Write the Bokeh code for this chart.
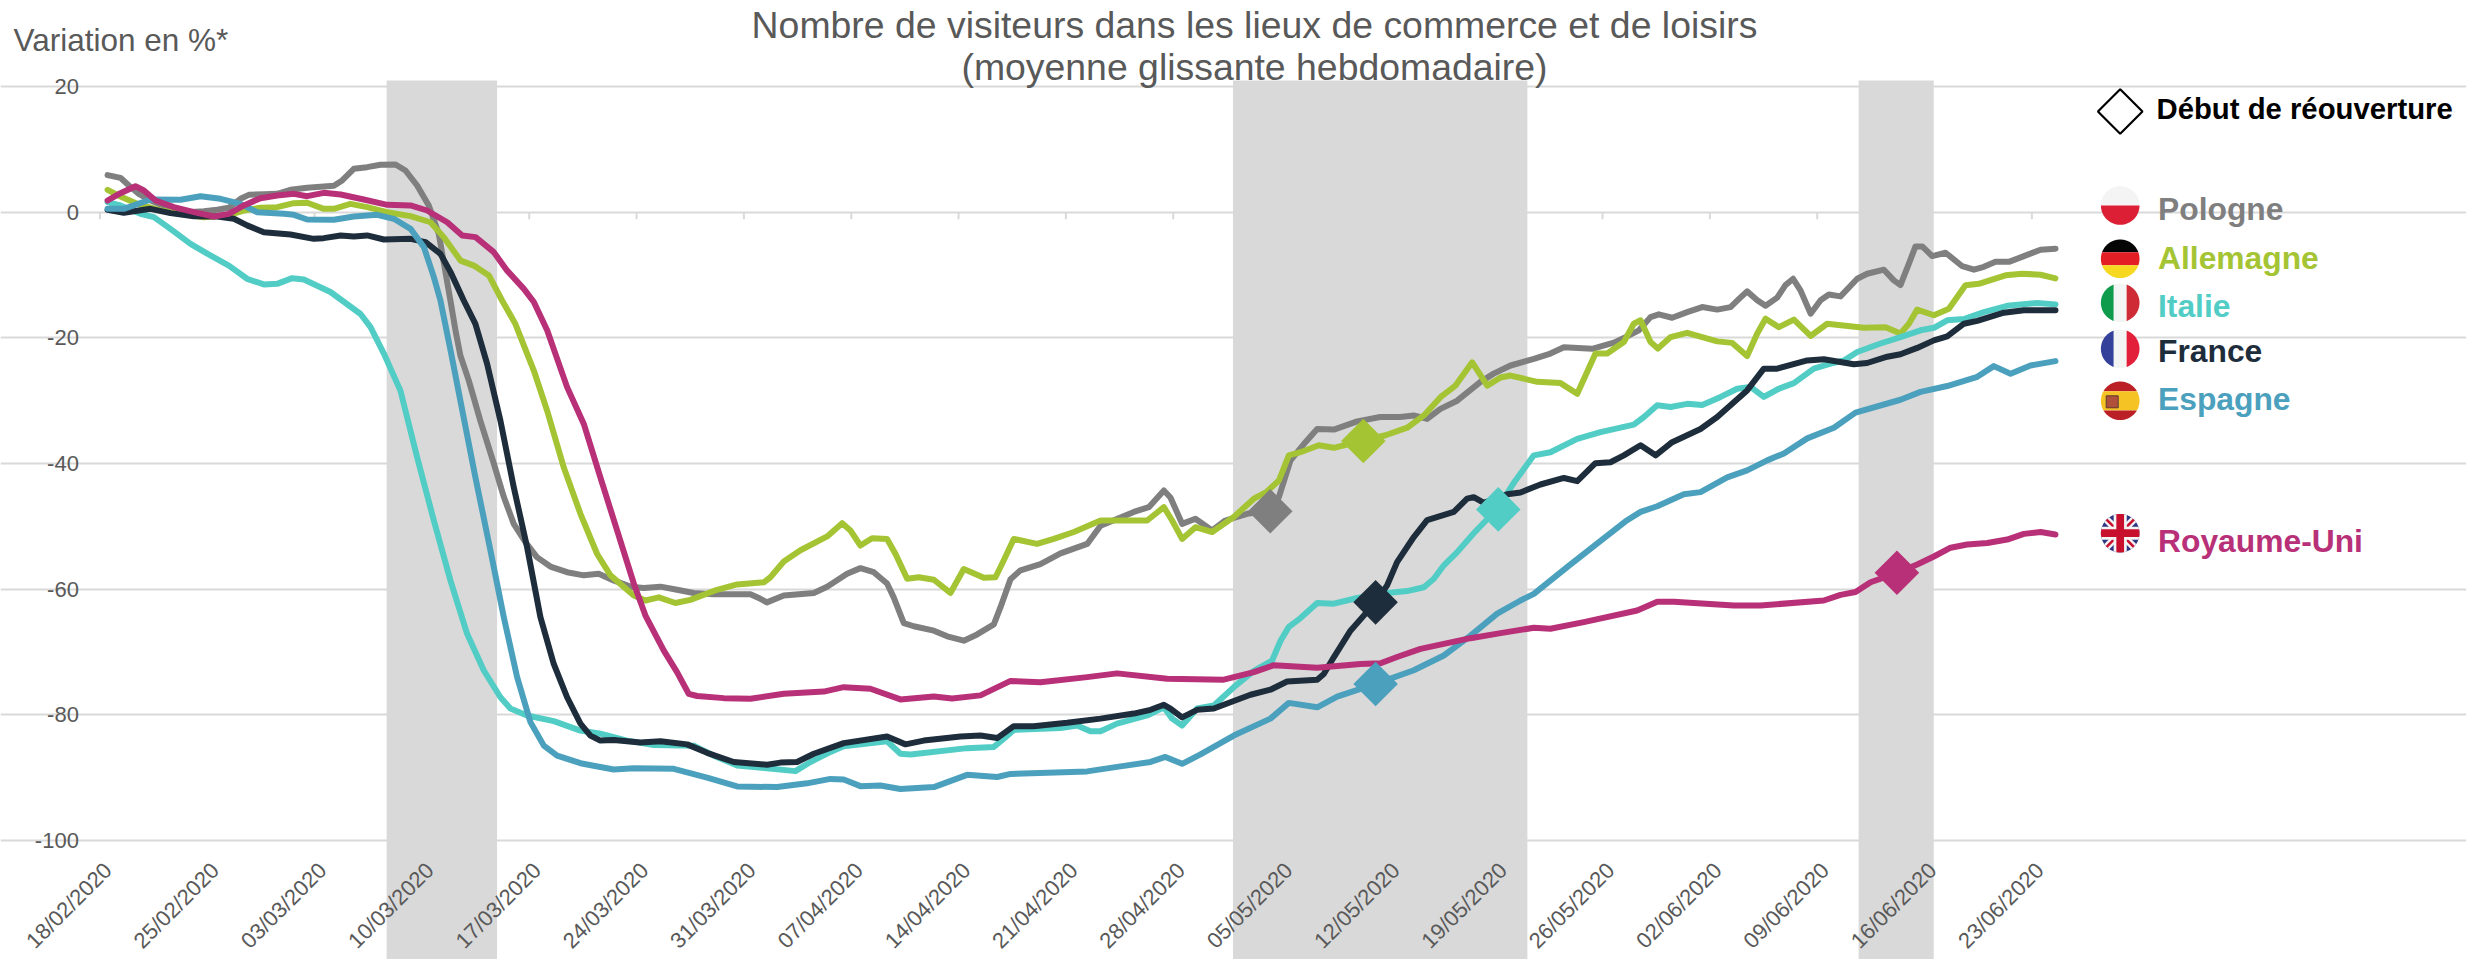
import math
import numpy as np
from bokeh.core.properties import value
from bokeh.embed import file_html
from bokeh.models import FixedTicker, Grid, LinearAxis, Range1d
from bokeh.plotting import figure
from bokeh.resources import INLINE

# ---------- data: (day since 18/02/2020, variation in %) ----------
pologne_d = [.5,1.34,1.89,2.54,3.3,4.39,5.7,6.78,7.65,8.4,9.17,9.71,10.69,11.56,12.43,13.52,15.26,15.8,16.56,17.43,18.3,19.28,19.93,20.69,21.45,22.1,22.86,23.19,23.51,24.06,24.8,25.69,26.34,26.99,27.75,28.5,29.38,30.47,31.56,32.53,33.5,34.6,35.47,36.56,37.64,38.73,40.03,42.43,42.97,43.5,44.6,46.56,47.43,48.73,49.6,50.47,51.34,51.77,52.43,53.08,54.39,55.26,56.34,57.21,58.3,58.73,59.39,60.04,61.34,62.65,64.39,65.26,67.43,68.41,69.39,69.82,70.58,71.45,72.54,73.4,74.82,76.34,76.89,77.65,78.52,79.39,80.48,82,83.5,84.8,85.69,86.56,87.43,88.52,90.04,90.9,92,93.52,94.6,95.48,97.32,98.74,99.6,100.37,101.13,101.67,102.54,103.52,104.5,105.48,106.35,106.9,107.43,108.09,108.63,109.39,109.93,110.43,110.91,111.57,112.22,112.76,113.52,114.61,115.26,116.35,117,117.43,117.98,118.41,118.85,119.5,120.37,121.46,122.22,122.87,123.63,124.5,125.48,126.57,127.54]
pologne_v = [5.9,5.47,4.25,2.92,1.86,.8,0,.17,.38,.7,2.13,2.76,2.87,2.92,3.56,3.88,4.2,5.05,6.9,7.17,7.54,7.59,6.64,4.25,1.07,-3.44,-14.05,-18.8,-22.8,-26.8,-33.1,-40,-45.3,-49.6,-52.5,-54.9,-56.4,-57.3,-57.8,-57.55,-58.6,-59.6,-59.8,-59.6,-60.1,-60.6,-60.8,-60.8,-61.4,-62.1,-61,-60.6,-59.6,-57.55,-56.65,-57.3,-59.1,-61.3,-65.4,-65.9,-66.6,-67.5,-68.2,-67.2,-65.6,-62.9,-58.4,-57,-56,-54.3,-52.8,-49.9,-47.7,-46.95,-44.3,-45.4,-49.6,-48.8,-50.66,-49.07,-48,-47.5,-45.35,-39.5,-36.9,-34.5,-34.6,-33.3,-32.6,-32.6,-32.35,-32.9,-31.3,-30,-27,-25.7,-24.4,-23.34,-22.5,-21.5,-21.75,-20.77,-19.76,-18.8,-16.7,-16.26,-16.8,-15.9,-15.1,-15.5,-15.1,-13.8,-12.6,-14,-14.9,-13.6,-11.6,-10.6,-12.44,-16.15,-14,-13.1,-13.4,-10.6,-9.8,-9.15,-10.85,-11.6,-8.2,-5.44,-5.44,-6.98,-6.45,-8.6,-9.15,-8.7,-7.9,-7.9,-7,-5.97,-5.8]

allemagne_d = [.5,1.34,2.43,3.95,5.26,6.78,8.3,9.39,10.47,11.56,12.65,13.52,14.6,15.26,16.34,17.43,18.74,20.26,21.56,22.43,23.52,24.39,25.37,26.23,27.1,28.3,29.17,30.25,31.34,32.43,33.3,34.82,35.58,36.45,37.53,38.51,40.25,41.56,43.3,43.73,44.6,45.69,47.43,48.41,48.95,49.6,50.36,51.34,51.89,52.65,53.41,54.39,55.47,56.34,57.65,58.41,58.95,59.6,61.12,62.21,63.52,65.26,68.3,69.39,69.93,70.58,71.45,72.54,73.95,75.26,76.1,76.89,77.54,78.3,79.5,80.48,82.43,83.85,85.26,86.35,87.43,88.41,89.5,90.48,91.35,92,93.74,95.26,96.35,97.54,98.3,99.39,100.04,100.48,101.13,101.61,102.44,103.52,105.48,106.46,107.43,108.09,108.63,109.5,110.48,111.57,112.65,115.04,116.46,117.43,117.98,118.52,119.61,120.59,121.67,122.54,124.28,125.37,126.57,127.54]
allemagne_v = [3.56,2.5,1.33,.27,-.26,-.79,-.5,.27,.7,.8,1.44,1.5,.54,.54,1.33,.8,0,-.63,-1.6,-3.97,-7.7,-8.5,-10.07,-14.05,-17.8,-25.2,-31.6,-40.6,-48,-54.4,-57.8,-61,-61.8,-61.3,-62.2,-61.7,-60.1,-59.25,-58.9,-58.1,-55.6,-53.8,-51.6,-49.5,-50.66,-53.05,-51.9,-52,-54.4,-58.35,-58.1,-58.5,-60.6,-56.8,-58.2,-58.1,-55.4,-52,-52.8,-52,-50.9,-49.07,-49.07,-46.95,-49.07,-52,-50.13,-50.9,-48.5,-45.6,-44.5,-42.7,-38.7,-38.2,-37.1,-37.5,-36.3,-35.5,-34.3,-32.35,-29.44,-27.6,-23.9,-27.6,-26.3,-26,-27,-27.2,-28.9,-22.5,-22.5,-20.66,-17.75,-17.2,-20.66,-21.7,-19.87,-19.2,-20.56,-20.8,-22.9,-19.3,-16.95,-18.3,-17.1,-19.7,-17.75,-18.4,-18.3,-19.3,-17.75,-15.5,-16.4,-15.36,-11.64,-11.4,-10.05,-9.8,-9.95,-10.53]

italie_d = [.5,1.34,2.65,3.52,4.6,5.91,7,8.41,9.6,10.69,11.56,12.54,13.3,15.04,17,17.65,18.52,19.6,20.69,21.77,22.86,23.95,25.03,26.12,26.77,27.86,29.6,31.34,32.64,34.38,36.12,38.73,40.03,41.56,43.5,45.36,46.34,47.65,48.5,51.34,52.21,52.87,56.56,58.3,58.95,59.6,62.65,63.73,64.6,65.26,66.34,68.3,69.39,69.93,70.58,71.56,72.65,73.95,75.26,76.45,77,77.54,78.3,79.39,80.48,82,83.95,85.26,86.35,87,87.65,88.52,89.6,91.13,92.32,93.52,94.6,96.35,97.87,100.04,100.7,101.57,102.44,103.52,104.5,105.7,106.78,107.65,108.52,109.5,110.48,111.78,112.87,113.74,114.61,116.13,117.43,118.74,119.61,120.48,121.57,122.87,124.39,126.35,127.54]
italie_v = [1.6,1.07,-.26,-.79,-2.65,-5.03,-6.6,-8.5,-10.6,-11.5,-11.4,-10.5,-10.7,-12.7,-16.2,-18.3,-22.5,-28.4,-39,-49,-58.6,-67.1,-72.9,-77.2,-79,-80.1,-81,-82.5,-83,-84.1,-84.8,-84.9,-86.5,-88.05,-88.5,-88.96,-87.5,-85.9,-85,-84.2,-86.2,-86.3,-85.3,-85.1,-83.8,-82.4,-82.1,-81.7,-82.6,-82.6,-81.4,-80.1,-78.8,-80.6,-81.7,-79,-78.5,-75.6,-73,-71.35,-68.2,-66,-64.6,-62.2,-62.3,-61.4,-60.6,-60.3,-59.7,-58.35,-56.2,-54.1,-51.1,-47.2,-42.7,-38.7,-38.2,-36.07,-35,-33.8,-32.6,-30.74,-31,-30.5,-30.7,-29.4,-28.1,-27.8,-29.4,-28.1,-27.2,-24.9,-24.1,-23.6,-22.25,-20.9,-19.87,-18.8,-18.4,-17.2,-17,-15.9,-14.9,-14.46,-14.67]

france_d = [.5,1.56,3.3,4.6,6.13,7.65,8.74,9.6,10.69,12.43,13.95,14.6,15.7,16.56,17.43,18.52,20.26,21.24,22.21,22.87,23.73,24.49,25.25,26.12,26.99,27.86,28.73,29.6,30.47,31.34,31.99,32.64,33.51,35.25,36.56,38.3,39.6,41.34,43.51,44.38,45.47,46.56,48.51,51.34,52.54,53.73,56.13,57.43,58.52,59.6,60.9,63.08,65.26,67.43,68.52,69.39,69.82,70.58,71.56,72.65,73.95,75.04,76.34,77.43,79.39,79.82,80.48,81.56,83.2,83.95,84.6,85.69,86.56,88.3,89.17,89.6,90.26,91.78,92.65,93.95,95.48,96.35,97.54,98.52,99.39,100.48,101.46,102.54,104.39,105.48,107.43,108.52,109.39,111.35,112.43,114.39,115.26,116.57,117.43,118.52,119.61,120.48,121.57,122.44,124.17,125.48,127.54]
france_v = [.38,-.1,.54,-.15,-.63,-.68,-1.05,-2.1,-3.18,-3.55,-4.24,-4.13,-3.7,-3.87,-3.7,-4.34,-4.24,-4.77,-6.63,-9.54,-14.05,-17.76,-24.1,-33.15,-43.76,-53.3,-64.45,-71.9,-77.2,-81.4,-83.3,-84.1,-84,-84.4,-84.2,-84.7,-86.04,-87.5,-87.95,-87.6,-87.5,-86.2,-84.5,-83.45,-84.7,-84.1,-83.45,-83.3,-83.7,-81.8,-81.8,-81.27,-80.6,-79.8,-79.2,-78.4,-79,-80.4,-79.2,-79,-77.8,-76.8,-76,-74.7,-74.4,-73.5,-70.8,-66.6,-62.06,-59.4,-55.7,-51.7,-49,-47.7,-45.6,-45.35,-46.26,-44.9,-44.6,-43.34,-42.3,-42.8,-39.94,-39.8,-38.7,-37.1,-38.7,-36.6,-34.5,-32.6,-28.36,-24.9,-24.9,-23.6,-23.4,-24.2,-24,-23,-22.6,-21.6,-20.4,-19.76,-17.75,-17.3,-16,-15.6,-15.6]

espagne_d = [.5,1.56,3.3,5.26,6.56,7.87,9.17,10.26,12,12.65,13.52,15.26,16.56,18.08,19.17,20.26,21.13,21.78,22.21,22.87,23.51,24.49,25.47,26.34,27.21,28.08,28.95,29.82,31.34,33.51,34.82,37.43,39.6,41.56,44.17,46.12,47.64,48.51,49.6,50.9,52.21,54.39,56.56,58.52,59.39,64.39,66.56,68.52,69.49,70.58,71.78,73.95,76.34,77.54,79.39,80.69,83.3,85.69,87.65,89.39,91.13,92.65,93.52,95.69,97.87,99.5,100.48,101.57,103.3,104.39,106.13,107.43,108.74,109.83,111.35,113.09,114.5,117.43,118.74,120.48,122.44,123.52,124.61,125.91,127.54]
espagne_v = [.54,.54,2.02,1.97,2.55,2.13,1.33,0,-.26,-.42,-1.16,-1.2,-.68,-.42,-1.05,-2.65,-5.56,-10.34,-14.05,-22,-30,-42.2,-53.84,-64.45,-74,-81.16,-84.9,-86.5,-87.7,-88.7,-88.5,-88.6,-90,-91.4,-91.5,-90.9,-90.2,-90.3,-91.35,-91.24,-91.8,-91.5,-89.55,-89.9,-89.4,-89,-88.2,-87.5,-86.7,-87.8,-86.3,-83.3,-80.6,-78.1,-78.8,-77.1,-75,-72.9,-70.55,-67.4,-63.9,-61.8,-60.74,-56.5,-52.3,-49.2,-47.7,-46.8,-44.9,-44.55,-42.2,-41.1,-39.5,-38.4,-36,-34.3,-31.9,-29.85,-28.6,-27.67,-26.2,-24.5,-25.7,-24.4,-23.7]

royaume_d = [.5,1.34,2.32,2.87,3.63,4.82,6.34,7.43,8.41,9.39,10.47,11.56,12.65,13.52,14.6,15.7,17.21,18.74,20.26,21.34,22.65,23.63,24.5,25.69,26.56,27.65,28.3,29.17,30.47,31.56,32.64,33.73,34.82,35.58,36.77,37.64,38.4,38.95,40.69,42.43,44.6,47.21,48.51,50.25,52.21,54.39,55.58,57.43,59.39,61.34,64.39,66.34,69.6,73.3,75.26,76.56,79.39,82.21,83.52,84.6,86.13,89.39,91.35,93.52,94.6,96.78,100.26,101.57,102.65,106.57,108.3,112.43,113.52,114.5,115.48,117.22,118.52,119.61,120.7,121.78,123.09,124.39,125.48,126.57,127.54]
royaume_v = [1.86,3.03,4.14,3.45,1.86,.8,-.1,-.68,-.26,1.07,2.23,2.66,2.92,2.55,3.08,2.82,2.02,1.17,1.07,.27,-1.6,-3.7,-3.97,-6.36,-9.3,-12.2,-14.3,-18.8,-27.84,-33.7,-42.2,-50.65,-59.1,-64.2,-69.75,-73.2,-76.65,-77,-77.34,-77.45,-76.65,-76.3,-75.6,-75.85,-77.55,-77.08,-77.4,-76.9,-74.6,-74.8,-74,-73.4,-74.27,-74.4,-73.2,-72.1,-72.5,-71.9,-71.8,-70.8,-69.5,-67.8,-67,-66.15,-66.3,-65.25,-63.4,-62,-62,-62.6,-62.6,-61.8,-60.9,-60.46,-58.9,-57.4,-56.06,-54.8,-53.4,-52.9,-52.66,-52.1,-51.2,-50.9,-51.3]

# Reopening dates and their values, one marker per country
marker_days = [76.33, 82.4, 91.2, 83.2, 83.2, 117.2]
marker_vals = [-47.6, -36.4, -47.3, -62.1, -75.1, -57.4]

countries = ["Pologne", "Allemagne", "Italie", "France", "Espagne", "Royaume-Uni"]
colors = ["#7F7F7F", "#A4C434", "#52CDC5", "#1E2D3B", "#4BA1BD", "#B83077"]

tick_days = [0, 7, 14, 21, 28, 35, 42, 49, 56, 63, 70, 77, 84, 91, 98, 105, 112, 119, 126]
tick_labels = ["18/02/2020", "25/02/2020", "03/03/2020", "10/03/2020", "17/03/2020", "24/03/2020",
               "31/03/2020", "07/04/2020", "14/04/2020", "21/04/2020", "28/04/2020", "05/05/2020",
               "12/05/2020", "19/05/2020", "26/05/2020", "02/06/2020", "09/06/2020", "16/06/2020",
               "23/06/2020"]
y_ticks = [-100, -80, -60, -40, -20, 0, 20]
band_starts = [18.7, 73.9, 114.7]
band_ends = [25.9, 93.1, 119.6]

series_d = [pologne_d, allemagne_d, italie_d, france_d, espagne_d, royaume_d]
series_v = [pologne_v, allemagne_v, italie_v, france_v, espagne_v, royaume_v]

# ---------- layout (page pixels -> data units) ----------
W, H = 2466, 959
X0, PX_DAY = 99.4, 15.333
Y0, PX_UNIT = 211.7, 6.283
def dx(px): return (px - X0) / PX_DAY
def dy(py): return (Y0 - py) / PX_UNIT

FONT = "Liberation Sans"
TXT = "#595959"
GRID = "#D9D9D9"

p = figure(width=W, height=H, output_backend="svg", toolbar_location=None,
           x_axis_type=None, y_axis_type=None, min_border=0, outline_line_color=None,
           x_range=Range1d(dx(0), dx(W)), y_range=Range1d(dy(H), dy(0)))
p.background_fill_color = "white"
p.border_fill_color = "white"

# horizontal grid limited to the plot width (its 0 line is the category axis line)
grid = Grid(dimension=1, ticker=FixedTicker(ticks=y_ticks), bounds=(0, 128),
            grid_line_color=GRID, grid_line_width=2)
p.add_layout(grid)

# y axis labels
yax = LinearAxis(fixed_location=0, ticker=FixedTicker(ticks=y_ticks),
                 major_label_overrides={v: str(v) for v in y_ticks},
                 axis_line_color=None, major_tick_line_color=None, minor_tick_line_color=None,
                 major_tick_in=0, major_tick_out=0, major_label_standoff=21,
                 major_label_text_font=FONT, major_label_text_font_size="22px",
                 major_label_text_color=TXT)
p.add_layout(yax, "left")

# tick marks hanging from the 0 line, behind the shaded bands
p.segment(x0=tick_days, x1=tick_days, y0=0, y1=dy(Y0 + 7), line_color=GRID, line_width=2,
          level="underlay")

# date labels, low on the chart; slid half a day so that each label ends just right of its tick
LABEL_SHIFT = 0.52
label_pos = [d + LABEL_SHIFT for d in tick_days]
xax = LinearAxis(fixed_location=-100, ticker=FixedTicker(ticks=label_pos),
                 major_label_overrides=dict(zip(label_pos, tick_labels)),
                 major_label_orientation=math.pi / 4, axis_line_color=None,
                 major_tick_line_color=None, minor_tick_line_color=None,
                 major_tick_in=0, major_tick_out=0, major_label_standoff=26,
                 major_label_text_font=FONT, major_label_text_font_size="22px",
                 major_label_text_color=TXT)
p.add_layout(xax, "below")

# shaded periods
p.quad(left=band_starts, right=band_ends, top=dy(80), bottom=dy(H), fill_color=GRID,
       line_color=None)

# lines
for d, v, c in zip(series_d, series_v, colors):
    p.line(d, v, line_color=c, line_width=6, line_join="round", line_cap="round")

p.scatter(marker_days, marker_vals, marker="square", angle=math.pi / 4, size=31.5,
          fill_color=colors, line_color=None)

# titles
def text(x, y, s, size, color, align="left", bold=False):
    p.text([dx(x)], [dy(y)], text=[s], text_font=value(FONT), text_font_size=size, text_color=color,
           text_align=align, text_baseline="middle", text_font_style="bold" if bold else "normal")

text(1254, 24, "Nombre de visiteurs dans les lieux de commerce et de loisirs", "37.4px", TXT, "center")
text(1254, 66, "(moyenne glissante hebdomadaire)", "37.4px", TXT, "center")
text(13, 39, "Variation en %*", "31.5px", TXT)

# legend
legend_y = [208, 257, 305, 350.5, 398, 540]
flag_y = [205, 258.3, 302.3, 348.3, 400.3, 532.7]
FX, R = 2119.7, 19.3

p.scatter([dx(FX)], [dy(111)], marker="square", angle=math.pi / 4, size=31.5,
          fill_color="white", line_color="black", line_width=2.2)
text(2156, 108, "Début de réouverture", "29.3px", "black", bold=True)
for name, c, y in zip(countries, colors, legend_y):
    text(2157.5, y, name, "31.8px", c, bold=True)

# flags: each stripe is the flag disc cut by half planes
def disc(cy):
    t = np.linspace(0, 2 * np.pi, 97)[:-1]
    return [(FX + R * math.cos(a), cy + R * math.sin(a)) for a in t]

def clip(poly, nx, ny, c):
    """keep the part of poly where nx*x + ny*y <= c"""
    out = []
    for i in range(len(poly)):
        a, b = poly[i], poly[(i + 1) % len(poly)]
        fa, fb = nx * a[0] + ny * a[1] - c, nx * b[0] + ny * b[1] - c
        if fa <= 0:
            out.append(a)
        if fa * fb < 0:
            s = fa / (fa - fb)
            out.append((a[0] + s * (b[0] - a[0]), a[1] + s * (b[1] - a[1])))
    return out

def draw(poly, color):
    if poly:
        p.patch([dx(q[0]) for q in poly], [dy(q[1]) for q in poly], fill_color=color, line_color=None)

def hstripe(cy, f0, f1, color):
    q = clip(disc(cy), 0, -1, -(cy + f0 * R))
    draw(clip(q, 0, 1, cy + f1 * R), color)

def vstripe(cy, f0, f1, color):
    q = clip(disc(cy), -1, 0, -(FX + f0 * R))
    draw(clip(q, 1, 0, FX + f1 * R), color)

def diag(cy, sx, half, color):
    # stripe along a diagonal of the disc
    nx, ny = sx * math.sqrt(.5), math.sqrt(.5)
    c0 = nx * FX + ny * cy
    q = clip(disc(cy), nx, ny, c0 + half)
    draw(clip(q, -nx, -ny, -(c0 - half)), color)

# Pologne
hstripe(flag_y[0], -1, 0, "#F4F4F4")
hstripe(flag_y[0], 0, 1, "#DC1F35")
# Allemagne
hstripe(flag_y[1], -1, -1 / 3, "#050505")
hstripe(flag_y[1], -1 / 3, 1 / 3, "#E31E24")
hstripe(flag_y[1], 1 / 3, 1, "#F5D81F")
# Italie
vstripe(flag_y[2], -1, -1 / 3, "#0E9B4B")
vstripe(flag_y[2], -1 / 3, 1 / 3, "#F3F5F5")
vstripe(flag_y[2], 1 / 3, 1, "#CE2B37")
# France
vstripe(flag_y[3], -1, -1 / 3, "#33419A")
vstripe(flag_y[3], -1 / 3, 1 / 3, "#F3F5F5")
vstripe(flag_y[3], 1 / 3, 1, "#E3203A")
# Espagne
hstripe(flag_y[4], -1, -.5, "#BB2026")
hstripe(flag_y[4], -.5, .5, "#F6C324")
hstripe(flag_y[4], .5, 1, "#BB2026")
p.scatter([dx(FX - 8)], [dy(flag_y[4] + 1)], marker="square", size=12, fill_color="#B0503A",
          line_color="#5A3A30", line_width=1)
# Royaume-Uni
uk = flag_y[5]
draw(disc(uk), "#2E3582")
diag(uk, 1, 3.6, "#F4F4F4")
diag(uk, -1, 3.6, "#F4F4F4")
diag(uk, 1, 1.3, "#C8102E")
diag(uk, -1, 1.3, "#C8102E")
hstripe(uk, -.34, .34, "#F4F4F4")
vstripe(uk, -.34, .34, "#F4F4F4")
hstripe(uk, -.2, .2, "#C8102E")
vstripe(uk, -.2, .2, "#C8102E")

open("out.html", "w").write(file_html(p, INLINE))
